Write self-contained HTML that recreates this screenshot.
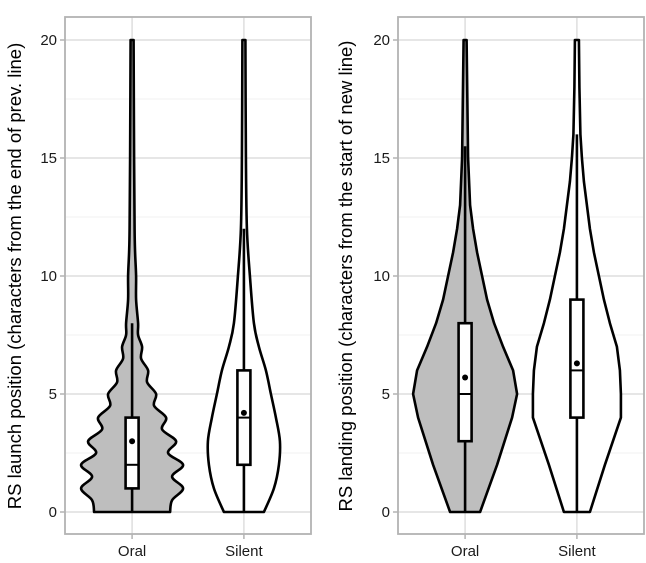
<!DOCTYPE html>
<html><head><meta charset="utf-8"><style>
html,body{margin:0;padding:0;background:#fff;}
svg{display:block;font-family:"Liberation Sans",Arial,sans-serif;}
</style></head><body>
<svg id="chart" width="646" height="563" viewBox="0 0 646 563"></svg>
<script>
const categories = ["Oral","Silent"];
const yTicks = [0,5,10,15,20];
// density half-width profiles (px) at y levels
const launchOralY = [0,0.5,1,1.5,2,2.5,3,3.5,4,4.5,5,5.5,6,6.5,7,7.5,8,9,10,11,12,15,20];
const launchOralW = [38,40,51,40,51,36,44,30,34,22,24,15,16,9,10,6,6,4,4,3,2.5,2,1.5];
const launchSilentY = [0,1,2,3,4,5,6,7,8,10,12,15,20];
const launchSilentW = [20,30,35,36,32,27,22,15,10,6,3,2,1.5];
const landOralY = [0,2,4,5,6,7,8,9,10,11,12,13,15,20];
const landOralW = [15,32,47,52,48,38,29,22,17,12,8,5,3,1.5];
const landSilentY = [0,2,4,5,6,7,8,9,10,11,12,13,14,15,16,18,20];
const landSilentW = [13,28,44,44,43,40,33,27,22,17,13,10,7,5,3.5,2.5,2];
// box stats: [whiskerLow, q1, median, q3, whiskerHigh, mean]
const launchOralBox = [0,1,2,4,8,3];
const launchSilentBox = [0,2,4,6,12,4.2];
const landOralBox = [0,3,5,8,15.5,5.7];
const landSilentBox = [0,4,6,9,16,6.3];

const NS="http://www.w3.org/2000/svg";
const svg=document.getElementById('chart');
function mk(t,a,p){const e=document.createElementNS(NS,t);for(const k in a)e.setAttribute(k,a[k]);(p||svg).appendChild(e);return e;}

const panels=[
 {x0:65,x1:311,title:"RS launch position (characters from the end of prev. line)",tx:21,smooth:true,
  series:[[launchOralY,launchOralW,launchOralBox,"#bebebe"],[launchSilentY,launchSilentW,launchSilentBox,"#ffffff"]],name:"launch"},
 {x0:398,x1:644,title:"RS landing position (characters from the start of new line)",tx:352,smooth:false,
  series:[[landOralY,landOralW,landOralBox,"#bebebe"],[landSilentY,landSilentW,landSilentBox,"#ffffff"]],name:"landing"}
];
const yTop=17,yBot=534;
function yS(v){return 512-(v/20)*472;}

function smoothPath(pts){
  let d="M"+pts[0][0]+","+pts[0][1];
  for(let i=0;i<pts.length-1;i++){
    const p0=pts[i-1]||pts[i],p1=pts[i],p2=pts[i+1],p3=pts[i+2]||p2;
    const c1=[p1[0]+(p2[0]-p0[0])/6,p1[1]+(p2[1]-p0[1])/6];
    const c2=[p2[0]-(p3[0]-p1[0])/6,p2[1]-(p3[1]-p1[1])/6];
    d+=" C"+c1[0].toFixed(2)+","+c1[1].toFixed(2)+" "+c2[0].toFixed(2)+","+c2[1].toFixed(2)+" "+p2[0].toFixed(2)+","+p2[1].toFixed(2);
  }
  return d;
}
function linePath(pts){return "M"+pts.map(p=>p[0].toFixed(2)+","+p[1].toFixed(2)).join(" L");}

panels.forEach(p=>{
  const g=mk('g',{});
  
  
  const w=p.x1-p.x0;
  const xS=i=>p.x0+w*(0.6+i)/2.2;
  for(let v=2.5;v<20;v+=5){
    const l=mk('line',{x1:p.x0,x2:p.x1,y1:yS(v),y2:yS(v),stroke:"#f0f0f0","stroke-width":1},g);
    
    
  }
  yTicks.forEach(v=>{
    const l=mk('line',{x1:p.x0,x2:p.x1,y1:yS(v),y2:yS(v),stroke:"#dedede","stroke-width":1.5},g);
    
    
    const tk=mk('line',{x1:p.x0-5,x2:p.x0,y1:yS(v),y2:yS(v),stroke:"#b3b3b3","stroke-width":1.5},g);
    
    
    const t=mk('text',{x:p.x0-8,y:yS(v)+5,"text-anchor":"end","font-size":15,fill:"#1a1a1a"},g);
    t.textContent=v;
    
    
  });
  categories.forEach((c,i)=>{
    const l=mk('line',{x1:xS(i),x2:xS(i),y1:yTop,y2:yBot,stroke:"#dedede","stroke-width":1.5},g);
    
    
    const tk=mk('line',{x1:xS(i),x2:xS(i),y1:yBot,y2:yBot+5,stroke:"#b3b3b3","stroke-width":1.5},g);
    
    
    const t=mk('text',{x:xS(i),y:556,"text-anchor":"middle","font-size":15,fill:"#1a1a1a"},g);
    t.textContent=c;
    
    
  });
  p.series.forEach((s,i)=>{
    const [ys,ws,box,fill]=s;const cx=xS(i);
    const right=ys.map((y,k)=>[cx+ws[k],yS(y)]);
    const left=ys.map((y,k)=>[cx-ws[k],yS(y)]).reverse();
    const f=p.smooth?smoothPath:linePath;
    const d=f(right)+" L"+f(left).slice(1)+" Z";
    const v=mk('path',{d:d,fill:fill,stroke:"#000","stroke-width":2.6,"stroke-linejoin":"round"},g);
    
    
    const wh=mk('line',{x1:cx,x2:cx,y1:yS(box[0]),y2:yS(box[4]),stroke:"#000","stroke-width":2.6},g);
    
    
    const b=mk('rect',{x:cx-6.5,y:yS(box[3]),width:13,height:yS(box[1])-yS(box[3]),fill:"#fff",stroke:"#000","stroke-width":2.6},g);
    
    
    const m=mk('line',{x1:cx-6.5,x2:cx+6.5,y1:yS(box[2]),y2:yS(box[2]),stroke:"#000","stroke-width":2},g);
    
    
    const mc=mk('circle',{cx:cx,cy:yS(box[5]),r:3,fill:"#000"},g);
    
    
  });
  const br=mk('rect',{x:p.x0,y:yTop,width:w,height:yBot-yTop,fill:"none",stroke:"#b3b3b3","stroke-width":1.8},g);
  
  
  const tt=mk('text',{x:0,y:0,transform:"translate("+p.tx+",276) rotate(-90)","text-anchor":"middle","font-size":18.5,fill:"#000"},g);
  tt.textContent=p.title;
  
  
});
</script>
</body></html>
